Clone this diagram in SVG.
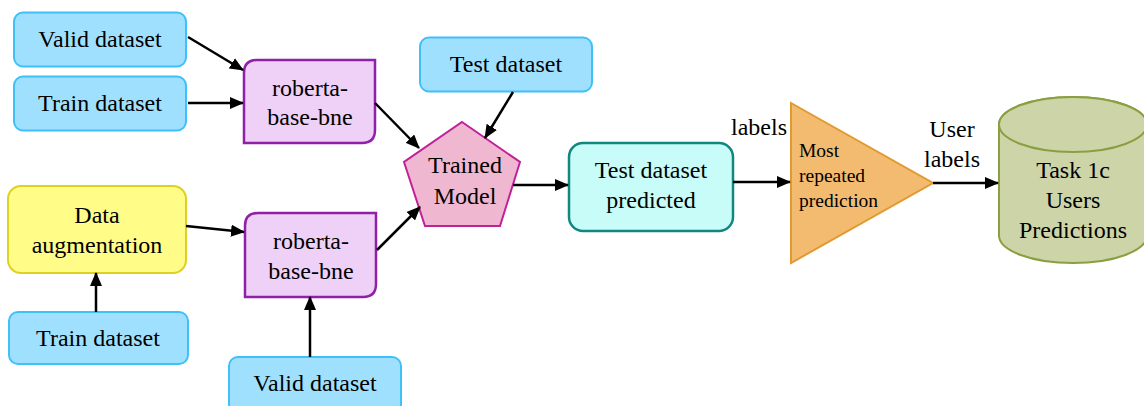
<svg xmlns="http://www.w3.org/2000/svg" width="1144" height="406" viewBox="0 0 1144 406">
<defs>
<style>
text{font-family:'Liberation Serif','Times New Roman','DejaVu Serif',serif;font-size:24px;fill:#000;text-anchor:middle}
.ds{fill:#a0e0ff;stroke:#40c0f8;stroke-width:2}
.rb{fill:#efd0f6;stroke:#9020a8;stroke-width:2.5}
.conn line{stroke:#000;stroke-width:2.5;marker-end:url(#ah)}
text.small{font-size:19.5px;text-anchor:start}
</style>
<marker id="ah" markerUnits="userSpaceOnUse" markerWidth="14" markerHeight="12" refX="13" refY="6" orient="auto">
<path d="M0,0 L14,6 L0,12 Z" fill="#000"/>
</marker>
</defs>
<rect width="1144" height="406" fill="#fff"/>
<g id="valid1"><rect class="ds" x="14" y="12.5" width="172" height="54" rx="9"/><text x="100" y="47">Valid dataset</text></g>
<g id="train1"><rect class="ds" x="14" y="76.5" width="172" height="54" rx="9"/><text x="100" y="111">Train dataset</text></g>
<g id="roberta1"><path class="rb" d="M244,73 Q244,60 257,60 L375,60 L375,130 Q375,143 362,143 L244,143 Z"/><text x="310" y="96">roberta-</text><text x="310" y="125">base-bne</text></g>
<g id="dataaug"><rect fill="#fffd88" stroke="#e0d020" stroke-width="2" x="8" y="186" width="178" height="87" rx="13"/><text x="97" y="223">Data</text><text x="97" y="253">augmentation</text></g>
<g id="train2"><rect class="ds" x="9" y="312" width="179" height="52" rx="9"/><text x="98" y="346">Train dataset</text></g>
<g id="roberta2"><path class="rb" d="M245,226 Q245,213 258,213 L376,213 L376,284 Q376,297 363,297 L245,297 Z"/><text x="311" y="249">roberta-</text><text x="311" y="279">base-bne</text></g>
<g id="valid2"><rect class="ds" x="229" y="357" width="172" height="56" rx="9"/><text x="315" y="391">Valid dataset</text></g>
<g id="test"><rect class="ds" x="420" y="37.5" width="172" height="54" rx="9"/><text x="506" y="72">Test dataset</text></g>
<g id="model"><polygon points="462,122 520,162 500,226 425,226 404,162" fill="#f0b8d0" stroke="#c0209a" stroke-width="2"/><text x="465" y="173">Trained</text><text x="465" y="204">Model</text></g>
<g id="predicted"><rect fill="#c8fcf8" stroke="#108880" stroke-width="2.5" x="569" y="143" width="164" height="88" rx="14"/><text x="651" y="178">Test dataset</text><text x="651" y="208">predicted</text></g>
<g id="vote"><polygon points="791,103 933,183 791,263" fill="#f2bb70" stroke="#e09a30" stroke-width="2"/><text class="small" x="799" y="157">Most</text><text class="small" x="799" y="182">repeated</text><text class="small" x="799" y="207">prediction</text></g>
<g id="result"><path d="M999,124.5 L999,235.5 A74,27.5 0 0 0 1147,235.5 L1147,124.5 A74,27.5 0 0 0 999,124.5 Z" fill="#cdd5a8" stroke="#8a9f40" stroke-width="2"/><ellipse cx="1073" cy="124.5" rx="74" ry="27.5" fill="#cdd5a8" stroke="#8a9f40" stroke-width="2"/><text x="1073" y="178">Task 1c</text><text x="1073" y="208">Users</text><text x="1073" y="238">Predictions</text></g>
<g id="labels"><text x="759" y="135">labels</text><text x="952" y="137">User</text><text x="952" y="167">labels</text></g>
<g class="conn" id="connectors">
<line x1="188" y1="37" x2="243" y2="70"/>
<line x1="188" y1="103" x2="243" y2="103"/>
<line x1="96" y1="312" x2="96" y2="273"/>
<line x1="186" y1="226" x2="244" y2="232"/>
<line x1="310" y1="357" x2="310" y2="297"/>
<line x1="375" y1="103" x2="419" y2="148"/>
<line x1="377" y1="250" x2="420" y2="207"/>
<line x1="513" y1="92" x2="485" y2="138"/>
<line x1="513" y1="185" x2="568" y2="185"/>
<line x1="733" y1="182" x2="790" y2="182"/>
<line x1="933" y1="183" x2="998" y2="183"/>
</g>
</svg>
